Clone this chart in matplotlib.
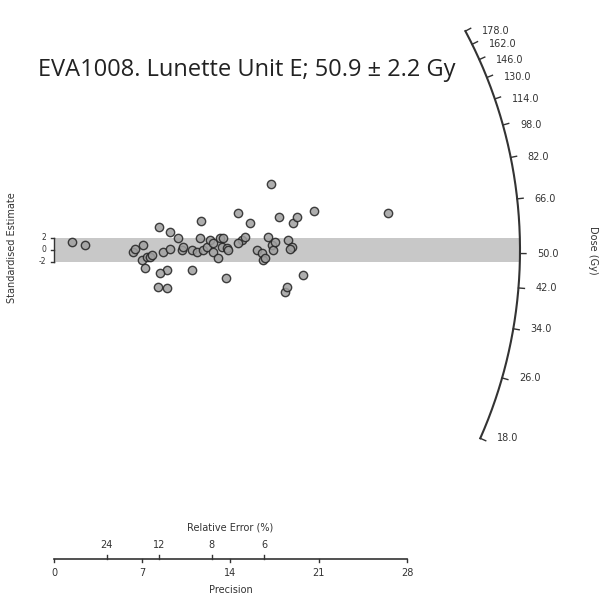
import numpy as np
import matplotlib
matplotlib.use("Agg")
import matplotlib.pyplot as plt

# precision (1/se) and standardised estimate of each aliquot
precision = [1.40, 2.46, 6.29, 6.43, 7.08, 6.96, 7.35, 7.61, 7.22, 7.75,
             8.35, 8.67, 9.20, 8.94, 8.41, 8.27, 8.94, 9.20, 9.86, 10.13,
             10.26, 10.92, 10.92, 11.32, 11.66, 11.58, 11.84, 12.11, 12.37, 12.64,
             12.64, 13.17, 13.03, 13.30, 13.43, 13.70, 13.83, 13.64, 14.62, 14.89,
             14.62, 15.15, 15.55, 16.08, 16.48, 16.60, 16.74, 17.00, 17.19, 17.27,
             17.40, 17.53, 17.87, 18.58, 18.85, 18.72, 18.98, 19.25, 18.32, 18.46,
             19.77, 20.65, 26.52]
std_est = [1.38, 0.83, -0.28, 0.17, 0.83, -1.67, -1.12, -1.22, -3.05, -0.83,
           3.88, -0.28, 0.12, -3.33, -3.78, -6.22, -6.38, 3.05, 1.95, 0.00,
           0.50, 0.00, -3.33, -0.33, 4.88, 1.95, 0.00, 0.50, 1.67, -0.28,
           1.17, 1.95, -1.38, 0.55, 1.95, 0.28, 0.00, -4.72, 6.12, 1.67,
           1.12, 2.12, 4.45, 0.00, -0.55, -1.67, -1.38, 2.22, 11.00, 0.83,
           0.00, 1.38, 5.55, 1.67, 0.55, 0.17, 4.45, 5.55, -6.95, -6.12,
           -4.17, 6.50, 6.12]

central_dose = 50.9
central_err = 2.2
dose_ticks = [18.0, 26.0, 34.0, 42.0, 50.0, 66.0, 82.0, 98.0, 114.0, 130.0, 146.0, 162.0, 178.0]
prec_ticks = [0, 7, 14, 21, 28]
rel_err_ticks = [24, 12, 8, 6]

# layout (pixels)
W, H = 610, 613
sx, sy = 12.607, 6.0        # px per unit of precision / standardised estimate
ox, oy = 54, 250            # origin of the radial plot
R = 466                     # radius of the dose arc
k = 0.425                   # angular scaling of the log-dose arc
axis_y = 559                # precision axis


def px(xp, yp):
    return (xp - ox) / sx, (oy - yp) / sy


def arc_point(dose, r=R):
    th = np.arctan(k * np.log(dose / central_dose))
    return r * np.cos(th) / sx, r * np.sin(th) / sy


fig = plt.figure(figsize=(W / 100, H / 100), dpi=100)
ax = fig.add_axes([0, 0, 1, 1])
ax.set_xlim(-ox / sx, (W - ox) / sx)
ax.set_ylim(-(H - oy) / sy, oy / sy)
ax.axis("off")

dark = "#333333"
fs = 7

# +-2 band
ax.fill_between([0, R / sx], [-2, -2], [2, 2], color="#c8c8c8", lw=0, zorder=1)

# standardised estimate bracket
ax.plot([0, 0], [-2, 2], color=dark, lw=1)
for v in [-2, 0, 2]:
    ax.plot([0, -3 / sx], [v, v], color=dark, lw=1)
    ax.text(-8 / sx, v, str(v), ha="right", va="center", fontsize=5.5, color=dark)
ax.text(*px(12, 248), "Standardised Estimate", rotation=90, ha="center", va="center",
        fontsize=fs, color=dark)

# data points
ax.plot(precision, std_est, "o", ms=6, mfc="#a0a0a0", mec="#222222", mew=1.0,
        alpha=0.85, zorder=3)

# dose arc
d = np.exp(np.linspace(np.log(dose_ticks[0]), np.log(dose_ticks[-1]), 300))
arc = np.array([arc_point(v) for v in d])
ax.plot(arc[:, 0], arc[:, 1], color=dark, lw=1.5, zorder=2)
for v in dose_ticks:
    x1, y1 = arc_point(v)
    x2, y2 = arc_point(v, R + 6)
    ax.plot([x1, x2], [y1, y2], color=dark, lw=1)
    ax.text(x1 + 17 / sx, y1, f"{v:.1f}", ha="left", va="center", fontsize=fs, color=dark)
ax.text(*px(593, 250), "Dose (Gy)", rotation=270, ha="center", va="center",
        fontsize=fs, color=dark)

# precision / relative error axis
yb = (oy - axis_y) / sy
ax.plot([0, prec_ticks[-1]], [yb, yb], color=dark, lw=1.2)
for p in prec_ticks:
    ax.plot([p, p], [yb, yb - 3 / sy], color=dark, lw=1)
    ax.text(p, yb - 14 / sy, str(p), ha="center", va="center", fontsize=fs, color=dark)
for r in rel_err_ticks:
    p = 100 / r
    ax.plot([p, p], [yb, yb + 4 / sy], color=dark, lw=1)
    ax.text(p, yb + 14 / sy, str(r), ha="center", va="center", fontsize=fs, color=dark)
ax.text(prec_ticks[-1] / 2, (oy - 527) / sy, "Relative Error (%)", ha="center", va="center",
        fontsize=fs, color=dark)
ax.text(prec_ticks[-1] / 2, (oy - 590) / sy, "Precision", ha="center", va="center",
        fontsize=fs, color=dark)

# title
ax.text(*px(38, 70), f"EVA1008. Lunette Unit E; {central_dose} \u00b1 {central_err} Gy",
        ha="left", va="center", fontsize=17, family="Open Sans", color="#222222")

fig.savefig("out.png", dpi=100)
